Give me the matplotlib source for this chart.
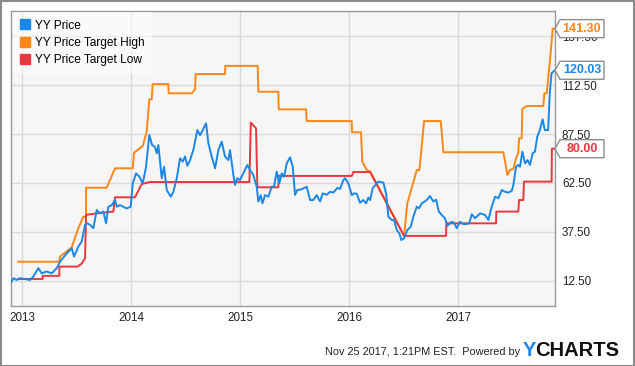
import matplotlib
matplotlib.use("Agg")
import matplotlib.pyplot as plt
from matplotlib.lines import Line2D
from matplotlib.patches import Polygon, Rectangle

plt.rcParams['font.family'] = ['Liberation Sans', 'DejaVu Sans']

# ---------------- data (decimal years, USD) ----------------
price_t = [2012.896, 2012.918, 2012.948, 2012.979, 2013.071, 2013.101, 2013.147, 2013.178, 2013.224, 2013.270,
           2013.316, 2013.346, 2013.408, 2013.454, 2013.475, 2013.514, 2013.545, 2013.576, 2013.597, 2013.622,
           2013.652, 2013.683, 2013.713, 2013.744, 2013.769, 2013.790, 2013.821, 2013.851, 2013.867, 2013.897,
           2013.959, 2013.995, 2014.014, 2014.044, 2014.074, 2014.106, 2014.136, 2014.166, 2014.191, 2014.216,
           2014.234, 2014.249, 2014.280, 2014.301, 2014.326, 2014.363, 2014.387, 2014.418, 2014.448, 2014.473,
           2014.494, 2014.515, 2014.540, 2014.570, 2014.607, 2014.632, 2014.657, 2014.687, 2014.708, 2014.739,
           2014.770, 2014.800, 2014.831, 2014.861, 2014.892, 2014.907, 2014.938, 2014.953, 2014.974, 2014.999,
           2015.029, 2015.066, 2015.091, 2015.121, 2015.152, 2015.167, 2015.189, 2015.204, 2015.229, 2015.259,
           2015.290, 2015.311, 2015.336, 2015.360, 2015.382, 2015.403, 2015.428, 2015.458, 2015.483, 2015.504,
           2015.525, 2015.565, 2015.611, 2015.642, 2015.672, 2015.703, 2015.734, 2015.758, 2015.795, 2015.826,
           2015.856, 2015.893, 2015.917, 2015.948, 2015.963, 2015.994, 2016.025, 2016.046, 2016.071, 2016.101,
           2016.131, 2016.156, 2016.177, 2016.193, 2016.218, 2016.239, 2016.269, 2016.315, 2016.340, 2016.361,
           2016.392, 2016.413, 2016.438, 2016.462, 2016.480, 2016.505, 2016.535, 2016.567, 2016.590, 2016.622,
           2016.643, 2016.668, 2016.713, 2016.744, 2016.774, 2016.799, 2016.824, 2016.851, 2016.881, 2016.902,
           2016.943, 2016.964, 2016.989, 2017.019, 2017.050, 2017.080, 2017.104, 2017.126, 2017.157, 2017.203,
           2017.249, 2017.279, 2017.310, 2017.341, 2017.371, 2017.402, 2017.433, 2017.463, 2017.494, 2017.509,
           2017.533, 2017.554, 2017.570, 2017.591, 2017.616, 2017.640, 2017.661, 2017.686, 2017.707, 2017.728,
           2017.752, 2017.777, 2017.798, 2017.828, 2017.843, 2017.859, 2017.889]
price_v = [11.6, 13.9, 13.0, 13.9, 13.0, 14.7, 19.0, 16.4, 17.3, 16.4,
           19.0, 22.3, 26.6, 29.2, 24.9, 30.0, 32.6, 41.1, 41.9, 41.1,
           39.4, 48.7, 47.0, 47.9, 41.9, 50.4, 51.2, 53.8, 50.4, 51.2,
           49.5, 50.4, 62.3, 67.4, 65.7, 62.3, 70.8, 87.0, 81.9, 81.0,
           77.7, 81.9, 64.9, 70.8, 58.9, 55.5, 58.0, 64.9, 75.1, 73.4,
           76.0, 71.3, 74.2, 79.3, 89.5, 86.9, 89.5, 93.0, 82.8, 76.0,
           70.0, 79.3, 83.6, 76.0, 74.2, 79.3, 66.6, 61.5, 64.9, 64.0,
           67.4, 71.7, 69.1, 66.6, 60.6, 53.0, 56.3, 52.1, 56.3, 55.5,
           60.6, 60.6, 68.3, 62.3, 67.4, 65.7, 72.5, 75.6, 70.8, 56.4,
           58.9, 59.3, 60.6, 53.8, 53.8, 56.3, 53.0, 57.2, 56.5, 58.0,
           57.6, 60.0, 59.5, 64.0, 65.0, 62.3, 56.3, 57.2, 57.0, 52.4,
           53.8, 52.1, 55.0, 53.8, 60.0, 61.2, 63.2, 62.7, 57.2, 45.3,
           43.6, 43.6, 38.5, 36.8, 33.4, 34.2, 38.5, 40.2, 45.3, 50.4,
           49.6, 52.1, 53.8, 55.8, 53.0, 54.0, 47.9, 46.2, 44.5, 40.6,
           42.7, 42.3, 39.4, 42.7, 41.5, 41.5, 42.0, 46.5, 44.5, 47.0,
           46.2, 43.6, 50.4, 55.5, 54.7, 58.9, 58.0, 57.6, 58.5, 61.5,
           70.8, 71.7, 70.8, 78.5, 72.5, 74.2, 71.7, 77.7, 78.5, 86.1,
           89.5, 95.0, 89.5, 89.5, 108.3, 118.5, 120.03]

high_t = [2012.963, 2013.340, 2013.346, 2013.454, 2013.514, 2013.560, 2013.585, 2013.585, 2013.775, 2013.851,
          2014.014, 2014.026, 2014.106, 2014.142, 2014.166, 2014.188, 2014.197, 2014.341, 2014.344, 2014.555,
          2014.586, 2014.592, 2014.861, 2014.864, 2015.161, 2015.167, 2015.351, 2015.354, 2015.605, 2015.611,
          2016.025, 2016.027, 2016.110, 2016.122, 2016.162, 2016.193, 2016.505, 2016.535, 2016.622, 2016.646,
          2016.689, 2016.842, 2016.866, 2017.417, 2017.454, 2017.478, 2017.509, 2017.533, 2017.554, 2017.561,
          2017.585, 2017.591, 2017.631, 2017.784, 2017.793, 2017.815, 2017.845, 2017.870, 2017.889]
high_v = [22.3, 22.3, 24.9, 29.7, 39.4, 45.3, 45.3, 60.1, 60.1, 70.0,
          70.0, 78.0, 81.4, 88.7, 105.2, 105.2, 113.0, 113.0, 108.3, 108.3,
          110.3, 118.1, 118.1, 122.3, 122.3, 109.1, 109.1, 100.1, 100.1, 94.1,
          94.1, 88.4, 88.4, 73.4, 69.1, 68.5, 35.5, 52.1, 69.1, 69.1,
          94.1, 94.1, 78.2, 78.2, 66.6, 69.1, 69.8, 75.1, 78.0, 85.3,
          85.3, 100.3, 101.8, 101.8, 108.3, 108.3, 125.2, 141.3, 141.30]

low_t = [2012.963, 2013.187, 2013.187, 2013.340, 2013.340, 2013.505, 2013.545, 2013.576, 2013.585, 2013.683,
         2013.836, 2013.851, 2014.035, 2014.096, 2014.173, 2015.085, 2015.098, 2015.146, 2015.158, 2015.351,
         2015.354, 2016.025, 2016.040, 2016.193, 2016.505, 2016.891, 2016.893, 2017.350, 2017.352, 2017.554,
         2017.561, 2017.600, 2017.606, 2017.860, 2017.862, 2017.889]
low_v = [13.5, 13.5, 15.1, 15.1, 19.8, 19.8, 21.3, 24.1, 46.2, 47.0,
         47.9, 55.2, 55.2, 62.0, 63.0, 63.0, 93.3, 90.4, 60.3, 60.3,
         66.1, 66.1, 68.1, 68.1, 35.5, 35.5, 41.9, 41.9, 47.9, 47.9,
         53.8, 53.8, 63.2, 63.2, 80.0, 80.00]

series_names = ["YY Price", "YY Price Target High", "YY Price Target Low"]
series_colors = ["#1a87e6", "#fb8716", "#e8383d"]
year_ticks = [2013, 2014, 2015, 2016, 2017]
year_labels = ["2013", "2014", "2015", "2016", "2017"]
y_ticks = [12.5, 37.5, 62.5, 87.5, 112.5, 137.5]
y_labels = ["12.50", "37.50", "62.50", "87.50", "112.50", "137.50"]
last_values = [120.03, 141.30, 80.00]
footer = "Nov 25 2017, 1:21PM EST.  Powered by"

# ---------------- figure ----------------
W, H = 635, 366
fig = plt.figure(figsize=(W / 100, H / 100), dpi=100)
fig.patch.set_facecolor("white")
ax_l, ax_r, ax_t, ax_b = 11, 555, 11, 306
ax = fig.add_axes([ax_l / W, 1 - ax_b / H, (ax_r - ax_l) / W, (ax_b - ax_t) / H])
ax.set_facecolor("#f6f6f6")

xmin, xmax = 2012.896, 2017.891
ymin, ymax = -0.3, 150.3
ax.set_xlim(xmin, xmax)
ax.set_ylim(ymin, ymax)

ax.plot(high_t, high_v, color=series_colors[1], lw=1.4, solid_joinstyle="round", zorder=3)
ax.plot(low_t, low_v, color=series_colors[2], lw=1.4, solid_joinstyle="round", zorder=3)
ax.plot(price_t, price_v, color=series_colors[0], lw=1.4, solid_joinstyle="round", zorder=4)

ax.set_xticks(year_ticks)
ax.set_xticklabels(year_labels)
ax.set_yticks(y_ticks)
ax.set_yticklabels(y_labels)
ax.yaxis.tick_right()
ax.tick_params(axis="both", length=0, labelsize=8.4, colors="#222222")
ax.tick_params(axis="y", pad=5)
ax.tick_params(axis="x", pad=4)
ax.grid(True, color="#d9d9d9", lw=1.0)
ax.set_axisbelow(True)
for s in ax.spines.values():
    s.set_color("#9a9a9a")
    s.set_linewidth(1.0)

# legend
handles = [Line2D([], [], marker="s", ls="none", markersize=6.5, color=c) for c in series_colors]
leg = ax.legend(handles, series_names, loc="upper left", bbox_to_anchor=(0.004, 0.995),
                frameon=True, fontsize=8.6, handlelength=0.8, handletextpad=0.45,
                labelspacing=0.45, borderpad=0.6, borderaxespad=0.0)
leg.get_frame().set_facecolor("white")
leg.get_frame().set_alpha(0.55)
leg.get_frame().set_edgecolor("none")
leg.get_frame().set_boxstyle("square", pad=0)

# value tags on the right
px_x = (xmax - xmin) / (ax_r - ax_l)
px_y = (ymax - ymin) / (ax_b - ax_t)
for v, c in zip(last_values, series_colors):
    tip = 5 * px_x
    wdt = 49 * px_x
    hh = 9 * px_y
    poly = Polygon([(xmax, v), (xmax + tip, v + hh), (xmax + wdt, v + hh),
                    (xmax + wdt, v - hh), (xmax + tip, v - hh)], closed=True,
                   facecolor="white", edgecolor="#8c8c8c", lw=1.0, clip_on=False, zorder=10)
    ax.add_patch(poly)
    ax.text(xmax + (tip + wdt) / 2, v, f"{v:.2f}", color=c, fontsize=9, fontweight="bold",
            ha="center", va="center", clip_on=False, zorder=11)

# footer
fig.text(520 / W, 1 - 352 / H, footer, ha="right", va="center", fontsize=7.8, color="#222222")
t_y = fig.text(523 / W, 1 - 350 / H, "Y", ha="left", va="center", fontsize=14.5,
               fontweight="bold", color="#1a87e6")
renderer = fig.canvas.get_renderer()
bb = t_y.get_window_extent(renderer=renderer)
fig.text((bb.x1 - 1.0) / W, 1 - 350 / H, "CHARTS", ha="left", va="center", fontsize=14.5,
         fontweight="bold", color="#111111")

# outer frame
fig.patches.append(Rectangle((0.5 / W, 0.5 / H), 1 - 1.5 / W, 1 - 1.5 / H, transform=fig.transFigure,
                             fill=False, edgecolor="#8a8a8a", lw=1.5))

fig.savefig("out.png", dpi=100)
